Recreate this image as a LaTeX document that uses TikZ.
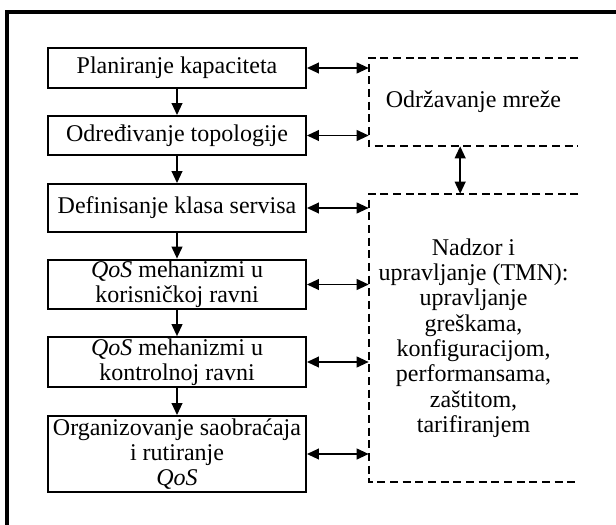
\documentclass[tikz,border=0pt]{standalone}
\usepackage{fontspec}
\setmainfont{Liberation Serif}
\usetikzlibrary{arrows.meta,positioning,calc}

\begin{document}
\begin{tikzpicture}[x=0.75pt, y=-0.75pt,
  box/.style={rectangle, draw, line width=1.4pt, minimum width=193.5pt, minimum height=#1, align=center, inner sep=1pt, font=\fontsize{18}{19}\selectfont},
  area/.style={rectangle, minimum width=156.75pt, minimum height=#1, align=center, inner sep=0pt, font=\fontsize{18}{19}\selectfont},
  dline/.style={line width=1.4pt, dash pattern=on 6pt off 3.5pt},
  arr/.style={-{Triangle[length=9pt, width=8pt]}, line width=1.4pt},
  dblarr/.style={{Triangle[length=9pt, width=8pt]}-{Triangle[length=9pt, width=8pt]}, line width=1.4pt},
  frame/.style={line width=2.5pt}
]
  \useasboundingbox (0,0) rectangle (616,524);
  % outer frame, only top and left inside the page
  \draw[frame] (7,530) -- (7,12) -- (620,12);

  % process chain
  \node[box=30pt] (plan) at (177,68) {Planiranje kapaciteta};
  \node[box=29.25pt] (topo) at (177,135.5) {Određivanje topologije};
  \node[box=36pt] (klas) at (177,208) {Definisanje klasa servisa};
  \node[box=36.75pt] (kor) at (177,284.5) {\textit{QoS} mehanizmi u\\korisničkoj ravni};
  \node[box=36pt] (kon) at (177,362) {\textit{QoS} mehanizmi u\\kontrolnoj ravni};
  \node[box=57pt] (rut) at (177,454) {Organizovanje saobraćaja\\i rutiranje\\\textit{QoS}};

  \draw[arr] (plan) -- (topo);
  \draw[arr] (topo) -- (klas);
  \draw[arr] (klas) -- (kor);
  \draw[arr] (kor) -- (kon);
  \draw[arr] (kon) -- (rut);

  % dashed areas, open on the right
  \node[area=66pt] (odr) at (473.5,102) {Održavanje mreže};
  \node[area=216pt] (nad) at (473.5,338) {Nadzor i\\upravljanje (TMN):\\upravljanje\\greškama,\\konfiguracijom,\\performansama,\\zaštitom,\\tarifiranjem};
  \draw[dline] (odr.north east) -- (odr.north west) -- (odr.south west) -- (odr.south east);
  \draw[dline] (nad.north east) -- (nad.north west) -- (nad.south west) -- (nad.south east);

  % links
  \draw[dblarr] (plan.east) -- (plan.east -| odr.west);
  \draw[dblarr] (topo.east) -- (topo.east -| odr.west);
  \draw[dblarr] (klas.east) -- (klas.east -| nad.west);
  \draw[dblarr] (kor.east) -- (kor.east -| nad.west);
  \draw[dblarr] (kon.east) -- (kon.east -| nad.west);
  \draw[dblarr] (rut.east) -- (rut.east -| nad.west);
  \draw[dblarr] ([xshift=-10pt]odr.south) -- ([xshift=-10pt]odr.south |- nad.north);
\end{tikzpicture}
\end{document}
